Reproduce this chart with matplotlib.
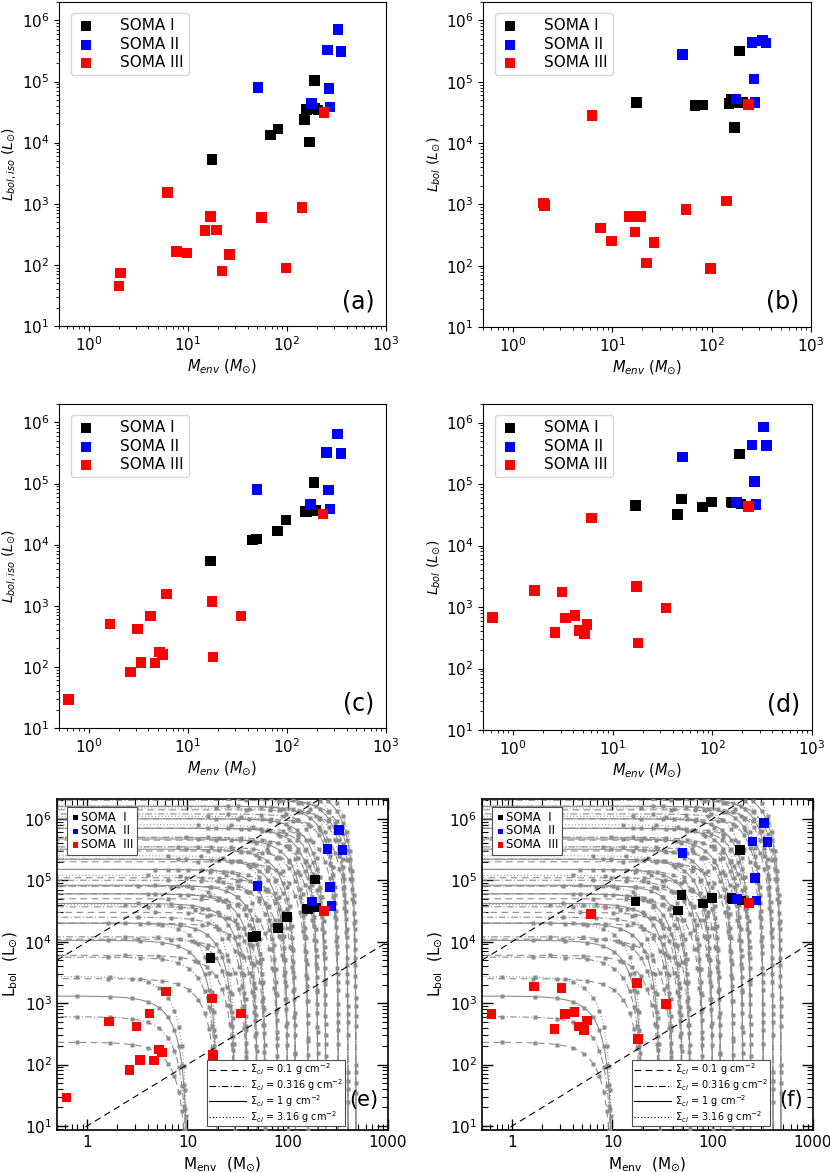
import numpy as np
import matplotlib.pyplot as plt
from matplotlib.lines import Line2D
from matplotlib.ticker import FixedLocator, NullFormatter, LogLocator

# ---- SOMA sources, panels (a)/(b) ----
menv_ab_black = [17.5, 68, 81, 150, 157, 169, 190, 190, 205]
liso_ab_black = [5.3e3, 1.33e4, 1.67e4, 2.4e4, 3.5e4, 1.02e4, 1.05e5, 3.6e4, 3.4e4]
lbol_ab_black = [4.56e4, 4.1e4, 4.2e4, 4.4e4, 5.1e4, 1.78e4, 3.2e5, 4.6e4, 4.7e4]

menv_ab_blue = [51, 176, 255, 266, 273, 327, 353]
liso_ab_blue = [7.9e4, 4.4e4, 3.27e5, 7.7e4, 3.8e4, 7.1e5, 3.07e5]
lbol_ab_blue = [2.77e5, 5.2e4, 4.37e5, 1.11e5, 4.6e4, 4.7e5, 4.26e5]

menv_ab_red = [2.02, 2.09, 6.26, 7.65, 9.8, 14.9, 16.85, 19.35, 22.2, 26.4, 55, 98, 142, 236]
liso_ab_red = [45, 74, 1.52e3, 164, 157, 365, 625, 370, 80, 148, 596, 88.5, 867, 3.1e4]
lbol_ab_red = [1.06e3, 950, 2.8e4, 414, 251, 641, 355, 641, 111, 241, 824, 89.5, 1.14e3, 4.3e4]

# ---- SOMA sources, panels (c)/(d) and (e)/(f) ----
menv_cd_black = [17, 45, 49, 80, 98, 154, 160, 188, 194]
liso_cd_black = [5.4e3, 1.19e4, 1.24e4, 1.67e4, 2.53e4, 3.46e4, 3.4e4, 1.03e5, 3.6e4]
lbol_cd_black = [4.5e4, 3.2e4, 5.7e4, 4.2e4, 5.1e4, 5.1e4, 5.0e4, 3.1e5, 4.7e4]

menv_cd_blue = [50, 174, 250, 264, 273, 325, 351]
liso_cd_blue = [8.0e4, 4.5e4, 3.2e5, 7.8e4, 3.8e4, 6.5e5, 3.1e5]
lbol_cd_blue = [2.76e5, 5.0e4, 4.3e5, 1.09e5, 4.66e4, 8.5e5, 4.2e5]

menv_cd_red = [0.62, 1.64, 2.64, 3.1, 3.36, 4.18, 4.66, 5.2, 5.55, 6.12, 17.45, 18, 34.3, 231]
liso_cd_red = [29, 500, 82, 415, 119, 676, 116, 175, 158, 1.55e3, 1.18e3, 144, 676, 3.16e4]
lbol_cd_red = [670, 1.87e3, 382, 1.75e3, 662, 723, 417, 363, 522, 2.8e4, 2.14e3, 259, 963, 4.3e4]

# ---- model tracks: initial core masses and end luminosities ----
track_m0 = [10, 20, 30, 40, 50, 60, 80, 100, 120, 160, 200, 240, 320, 400, 480]
track_lend_01 = [2.3e2, 2.5e3, 6e3, 1.1e4, 2e4, 3e4, 5e4, 8e4, 1.1e5, 2e5, 3e5, 4.5e5, 7e5, 1e6, 1.4e6]
track_lend_0316 = [6e2, 5.6e3, 1.2e4, 2.5e4, 3.7e4, 6e4, 1e5, 1.5e5, 2.2e5, 3.5e5, 5e5, 7e5, 1.2e6, 1.6e6, 2e6]
track_lend_1 = [1.3e3, 1.05e4, 2e4, 4.2e4, 6e4, 8.3e4, 1.5e5, 2.2e5, 3.2e5, 4.7e5, 7e5, 1e6, 1.6e6, 2.2e6, 3e6]
track_lend_316 = [2.7e3, 2e4, 4e4, 8e4, 1.2e5, 1.5e5, 2.5e5, 3.5e5, 5e5, 8e5, 1.1e6, 1.5e6, 2.2e6, 3e6, 4e6]
track_sigma = ['0.1', '0.316', '1', '3.16']
track_styles = [(0, (6, 4)), (0, (6, 2, 1, 2)), '-', (0, (1, 2))]

W, H = 830, 1172
fig = plt.figure(figsize=(W / 100, H / 100), dpi=100)


def box(l, t, r, b):
    return [l / W, 1 - b / H, (r - l) / W, (b - t) / H]


def soma(ax, x, y, color, s, label):
    ax.scatter(x, y, marker='s', s=s, color=color, edgecolors='none', label=label, zorder=5)


def top_panel(rect, blk, blu, red, ylabel, letter):
    ax = fig.add_axes(rect)
    soma(ax, blk[0], blk[1], 'black', 58, 'SOMA I')
    soma(ax, blu[0], blu[1], 'blue', 58, 'SOMA II')
    soma(ax, red[0], red[1], 'red', 58, 'SOMA III')
    ax.set_xscale('log')
    ax.set_yscale('log')
    ax.set_xlim(0.5, 1000)
    ax.set_ylim(10, 2e6)
    ax.tick_params(labelsize=11)
    ax.set_xlabel(r'$M_{env}$ ($M_{\odot}$)', fontsize=10.5, labelpad=2)
    ax.set_ylabel(ylabel, fontsize=10)
    ax.yaxis.set_label_coords(-0.125, 0.5)
    ax.legend(loc='upper left', fontsize=11, handletextpad=1.6, borderpad=0.35,
              labelspacing=0.22, handlelength=1.3, markerscale=0.95,
              bbox_to_anchor=(0.012, 0.99))
    ax.text(0.965, 0.04, letter, transform=ax.transAxes, ha='right', va='bottom', fontsize=17)
    return ax


top_panel(box(59, 2, 386, 326), (menv_ab_black, liso_ab_black), (menv_ab_blue, liso_ab_blue),
          (menv_ab_red, liso_ab_red), r'$L_{bol,iso}$ ($L_{\odot}$)', '(a)')
top_panel(box(483, 2, 811, 327), (menv_ab_black, lbol_ab_black), (menv_ab_blue, lbol_ab_blue),
          (menv_ab_red, lbol_ab_red), r'$L_{bol}$ ($L_{\odot}$)', '(b)')
top_panel(box(59, 404, 386, 728), (menv_cd_black, liso_cd_black), (menv_cd_blue, liso_cd_blue),
          (menv_cd_red, liso_cd_red), r'$L_{bol,iso}$ ($L_{\odot}$)', '(c)')
top_panel(box(483, 404, 812, 730), (menv_cd_black, lbol_cd_black), (menv_cd_blue, lbol_cd_blue),
          (menv_cd_red, lbol_cd_red), r'$L_{bol}$ ($L_{\odot}$)', '(d)')


def draw_tracks(ax):
    frac = np.linspace(0.9999, 0.001, 400)
    dots = np.array([0.998, 0.993, 0.985, 0.97, 0.95, 0.92, 0.88, 0.82, 0.74, 0.64, 0.52, 0.4, 0.28, 0.17, 0.08])
    grey = '0.55'
    for lends, ls in zip([track_lend_01, track_lend_0316, track_lend_1, track_lend_316], track_styles):
        for m0, lend in zip(track_m0, lends):
            m = m0 * frac
            lum = lend * (1 - frac ** 2.5) ** 2
            ax.plot(m, lum, color=grey, lw=0.8, linestyle=ls, zorder=2)
            ax.plot(m0 * dots, lend * (1 - dots ** 2.5) ** 2, 's', color=grey,
                    ms=2.6, mec='none', zorder=3)


def bottom_panel(rect, blk, blu, red, letter):
    ax = fig.add_axes(rect)
    draw_tracks(ax)
    mline = np.array([0.5, 1000])
    ax.plot(mline, 1e4 * mline, color='black', lw=0.8, linestyle=(0, (6, 4)), zorder=4)
    ax.plot(mline, 10 * mline, color='black', lw=0.8, linestyle=(0, (6, 4)), zorder=4)
    soma(ax, blk[0], blk[1], 'black', 48, 'SOMA  I')
    soma(ax, blu[0], blu[1], 'blue', 48, 'SOMA  II')
    soma(ax, red[0], red[1], 'red', 48, 'SOMA  III')
    ax.set_xscale('log')
    ax.set_yscale('log')
    ax.set_xlim(0.5, 1000)
    ax.set_ylim(8.6, 2.1e6)
    ax.xaxis.set_major_locator(FixedLocator([1, 10, 100, 1000]))
    ax.set_xticklabels(['1', '10', '100', '1000'])
    ax.xaxis.set_minor_locator(LogLocator(base=10, subs=np.arange(2, 10)))
    ax.xaxis.set_minor_formatter(NullFormatter())
    ax.tick_params(which='both', direction='in', top=True, right=True, labelsize=11)
    ax.tick_params(which='major', length=8, width=1)
    ax.tick_params(which='minor', length=4, width=0.8)
    for sp in ax.spines.values():
        sp.set_linewidth(1.2)
    ax.set_xlabel(r'$\mathrm{M_{env}}$  ($\mathrm{M_{\odot}}$)', fontsize=11, labelpad=4)
    ax.set_ylabel(r'$\mathrm{L_{bol}}$  ($\mathrm{L_{\odot}}$)', fontsize=11, labelpad=4)
    leg1 = ax.legend(loc='upper left', fontsize=8.5, handletextpad=0.1, borderpad=0.3,
                     labelspacing=0.05, handlelength=0.8, fancybox=False, edgecolor='0.3',
                     framealpha=1, markerscale=0.55, bbox_to_anchor=(0.03, 0.975),
                     borderaxespad=0)
    leg1.get_frame().set_linewidth(0.8)
    ax.add_artist(leg1)
    handles = [Line2D([], [], color='black', lw=0.8, linestyle=ls) for ls in track_styles]
    labels = [r'$\Sigma_{cl}$ = %s g cm$^{-2}$' % s for s in track_sigma]
    leg2 = ax.legend(handles, labels, loc='lower right', fontsize=7, handlelength=3.8,
                     handletextpad=0.5, labelspacing=0.0, borderpad=0.15, fancybox=False,
                     edgecolor='0.3', framealpha=1, bbox_to_anchor=(0.87, 0.012),
                     borderaxespad=0)
    leg2.get_frame().set_linewidth(0.8)
    ax.text(0.97, 0.06, letter, transform=ax.transAxes, ha='right', va='bottom', fontsize=15, zorder=6)
    return ax


bottom_panel(box(57, 799, 388, 1130), (menv_cd_black, liso_cd_black), (menv_cd_blue, liso_cd_blue),
             (menv_cd_red, liso_cd_red), '(e)')
bottom_panel(box(482, 799, 813, 1130), (menv_cd_black, lbol_cd_black), (menv_cd_blue, lbol_cd_blue),
             (menv_cd_red, lbol_cd_red), '(f)')

fig.savefig('out.png', dpi=100)
